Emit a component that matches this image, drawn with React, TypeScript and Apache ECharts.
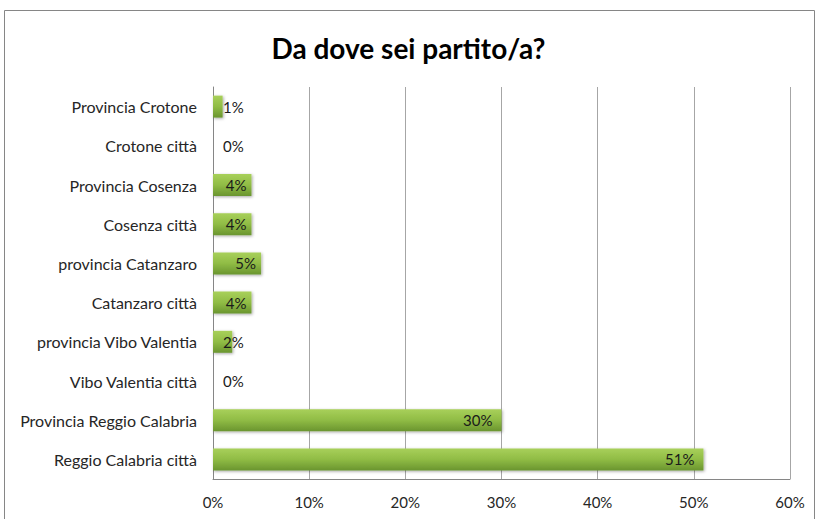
import React, { useEffect, useRef } from "react";
import * as echarts from "echarts";

const categories = [
  "Reggio Calabria città",
  "Provincia Reggio Calabria",
  "Vibo Valentia città",
  "provincia Vibo Valentia",
  "Catanzaro città",
  "provincia Catanzaro",
  "Cosenza città",
  "Provincia Cosenza",
  "Crotone città",
  "Provincia Crotone",
];
const values = [51, 30, 0, 2, 4, 5, 4, 4, 0, 1];
const titleText = "Da dove sei partito/a?";
const FONT = "Lato, 'Liberation Sans', sans-serif";

export default function App() {
  const ref = useRef<HTMLDivElement>(null);
  useEffect(() => {
    if (!ref.current) return;
    const chart = echarts.init(ref.current, undefined, { renderer: "svg" });
    const data = values.map((v) => {
      const small = v < 3;
      return {
        value: v,
        label: small
          ? { position: "insideLeft", distance: 10 }
          : { position: "insideRight", distance: v < 10 ? 5 : 9 },
      };
    });
    chart.setOption({
      animation: false,
      backgroundColor: "#ffffff",
      title: {
        text: titleText,
        left: "center",
        top: 29,
        textStyle: { fontFamily: FONT, fontSize: 28, fontWeight: "bold", color: "#000000" },
      },
      graphic: [
        {
          type: "rect",
          shape: { x: 4.5, y: 10.5, width: 810, height: 530 },
          style: { fill: "none", stroke: "#868686", lineWidth: 1 },
          silent: true,
        },
      ],
      grid: { left: 213, right: 27, top: 87, bottom: 40, containLabel: false },
      xAxis: {
        type: "value",
        min: 0,
        max: 60,
        interval: 10,
        axisLine: { show: true, lineStyle: { color: "#868686" } },
        axisTick: { show: false },
        splitLine: { show: true, lineStyle: { color: "#a6a6a6" } },
        axisLabel: {
          formatter: "{value}%",
          fontFamily: FONT,
          fontSize: 15,
          color: "#262626",
          margin: 15,
        },
      },
      yAxis: {
        type: "category",
        data: categories,
        axisLine: { show: true, lineStyle: { color: "#868686" } },
        axisTick: { show: false },
        axisLabel: { fontFamily: FONT, fontSize: 16, color: "#262626", margin: 16 },
      },
      series: [
        {
          type: "bar",
          data,
          barCategoryGap: "44%",
          itemStyle: {
            color: new echarts.graphic.LinearGradient(0, 0, 0, 1, [
              { offset: 0, color: "#a8d05a" },
              { offset: 0.5, color: "#90bc45" },
              { offset: 1, color: "#6a952f" },
            ]),
            shadowColor: "rgba(0,0,0,0.35)",
            shadowBlur: 3,
            shadowOffsetX: 1,
            shadowOffsetY: 1,
          },
          label: {
            show: true,
            formatter: "{c}%",
            fontFamily: FONT,
            fontSize: 15,
            color: "#1a1a1a",
          },
        },
      ],
    });
    return () => chart.dispose();
  }, []);
  return (
    <div
      ref={ref}
      style={{ position: "fixed", left: 0, top: 0, width: 817, height: 519 }}
    />
  );
}
